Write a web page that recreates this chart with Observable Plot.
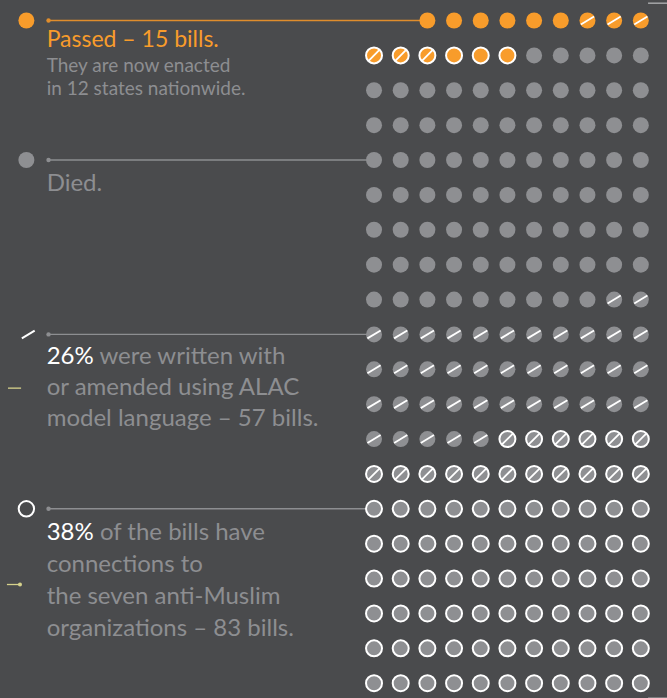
<!DOCTYPE html>
<html>
<head>
<meta charset="utf-8">
<script src="https://cdn.jsdelivr.net/npm/d3@7"></script>
<script src="https://cdn.jsdelivr.net/npm/@observablehq/plot@0.6"></script>
<style>
  html, body { margin: 0; padding: 0; background: #4a4b4d; }
  #chart svg { display: block; }
</style>
</head>
<body>
<div id="chart"></div>
<script>
// ---- Data ----
const columns = 11;          // dots per row
const firstCell = 2;         // the first row starts at the third column
const outcome = ["Passed", "Passed", "Passed", "Passed", "Died", "Died", "Died", "Died"];
const alac    = [false, true, true, false, false, true, true, false];   // ALAC model language (slash)
const linked  = [false, false, true, true, false, false, true, true];   // anti-Muslim org connection (ring)
const counts  = [6, 3, 3, 3, 80, 40, 17, 66];

// Legend / annotation rows (in grid row units) and texts
const legendRows   = [0, 4, 9, 14];
const legendEnds   = [2, 0, 0, 0];          // column of the dot each connector reaches
const legendColors = ["#e08d2c", "#8d8e91", "#8d8e91", "#8d8e91"];

const titleText    = "Passed – 15 bills.";
const subtitleText = "They are now enacted\nin 12 states nationwide.";
const diedText     = "Died.";
const alacText     = "26% were written with\nor amended using ALAC\nmodel language – 57 bills.";
const linkedText   = "38% of the bills have\nconnections to\nthe seven anti-Muslim\norganizations – 83 bills.";

// ---- Colours ----
const bg = "#4a4b4d", orange = "#f89c2b", gray = "#8e8f92", textGray = "#8d8e91", pale = "#d6d28c";

// ---- Build dots ----
const dots = [];
let idx = firstCell;
counts.forEach((n, g) => {
  for (let k = 0; k < n; k++, idx++) {
    dots.push({col: idx % columns, row: Math.floor(idx / columns), outcome: outcome[g], alac: alac[g], linked: linked[g]});
  }
});

// slash symbols (custom d3-symbol-like objects)
function slash(angleDeg) {
  const a = angleDeg * Math.PI / 180;
  return {draw(ctx, size) {
    const r = Math.sqrt(size / Math.PI);
    ctx.moveTo(-r * Math.cos(a), r * Math.sin(a));
    ctx.lineTo(r * Math.cos(a), -r * Math.sin(a));
  }};
}
const slashFlat = slash(31), slashSteep = slash(45);

const legend = legendRows.map((r, i) => ({row: r, from: -12.2, to: legendEnds[i], color: legendColors[i]}));
const LX = -12.27;  // text column
const IX = -13.03;  // icon column

const font = "Lato, 'Open Sans', sans-serif";

const chart = Plot.plot({
  width: 667,
  height: 698,
  margin: 0,
  style: {background: bg, fontFamily: font},
  x: {domain: [-14, 11], axis: null},
  y: {domain: [-20 / 34.88, 678 / 34.88], reverse: true, axis: null},
  marks: [
    // connectors
    Plot.ruleY(legend, {y: "row", x1: "from", x2: "to", stroke: "color", strokeWidth: 1.4}),
    Plot.dot(legend, {y: "row", x: "from", r: 2.2, fill: "color"}),
    // small decorations at the edges
    Plot.ruleY([{row: -0.496, a: 10.29, b: 11}, {row: 19.43, a: 10.29, b: 11}], {y: "row", x1: "a", x2: "b", stroke: "#a5a6a8", strokeWidth: 1.5}),
    // legend icons
    Plot.dot([{row: 0, c: IX}], {x: "c", y: "row", r: 8, fill: orange}),
    Plot.dot([{row: 4, c: IX}], {x: "c", y: "row", r: 8, fill: gray}),
    Plot.dot([{row: 9, c: IX + 0.07}], {x: "c", y: "row", r: 7.5, symbol: slashFlat, stroke: "white", strokeWidth: 2, fill: "none"}),
    Plot.dot([{row: 14, c: IX}], {x: "c", y: "row", r: 7.7, stroke: "white", strokeWidth: 2, fill: "none"}),
    // pale yellow side marks
    Plot.ruleY([{row: 10.54, a: -13.7, b: -13.21}], {y: "row", x1: "a", x2: "b", stroke: pale, strokeWidth: 1.3}),
    Plot.ruleY([{row: 16.17, a: -13.74, b: -13.27}], {y: "row", x1: "a", x2: "b", stroke: pale, strokeWidth: 1.3}),
    Plot.dot([{row: 16.17, c: -13.27}], {x: "c", y: "row", r: 2, fill: pale}),
    // grid dots
    Plot.dot(dots, {
      x: "col", y: "row",
      r: 8,
      fill: d => d.outcome === "Passed" ? orange : gray,
      stroke: d => d.linked ? "white" : "none",
      strokeWidth: 2
    }),
    // ALAC slashes
    Plot.dot(dots.filter(d => d.alac && !d.linked), {x: "col", y: "row", r: 7.7, symbol: slashFlat, stroke: "white", strokeWidth: 1.8, fill: "none"}),
    Plot.dot(dots.filter(d => d.alac && d.linked), {x: "col", y: "row", r: 8, symbol: slashSteep, stroke: "white", strokeWidth: 1.8, fill: "none"}),
    // texts
    Plot.text([titleText], {x: LX, y: 0.7655, text: d => d, textAnchor: "start", lineAnchor: "bottom", fill: orange, fontSize: 23, letterSpacing: 0.55}),
    Plot.text([subtitleText], {x: LX, y: 2.15, text: d => d, textAnchor: "start", lineAnchor: "bottom", fill: textGray, fontSize: 19, lineHeight: 1.263, letterSpacing: 0.9}),
    Plot.text([diedText], {x: LX, y: 4.874, text: d => d, textAnchor: "start", lineAnchor: "bottom", fill: textGray, fontSize: 24, letterSpacing: 1.0}),
    Plot.text([alacText], {x: LX, y: 11.625, text: d => d, textAnchor: "start", lineAnchor: "bottom", fill: textGray, fontSize: 24, lineHeight: 1.294, letterSpacing: 0.9}),
    Plot.text([linkedText], {x: LX, y: 17.632, text: d => d, textAnchor: "start", lineAnchor: "bottom", fill: textGray, fontSize: 24, lineHeight: 1.32, letterSpacing: 0.9})
  ]
});

// highlight the leading percentages in white
const ns = "http://www.w3.org/2000/svg";
chart.querySelectorAll("tspan").forEach(t => {
  const m = t.textContent.match(/^(\d+%)(.*)$/);
  if (m) {
    t.textContent = "";
    const hi = document.createElementNS(ns, "tspan");
    hi.setAttribute("fill", "#ffffff");
    hi.textContent = m[1];
    t.appendChild(hi);
    t.appendChild(document.createTextNode(m[2]));
  }
});

document.getElementById("chart").appendChild(chart);
</script>
</body>
</html>
